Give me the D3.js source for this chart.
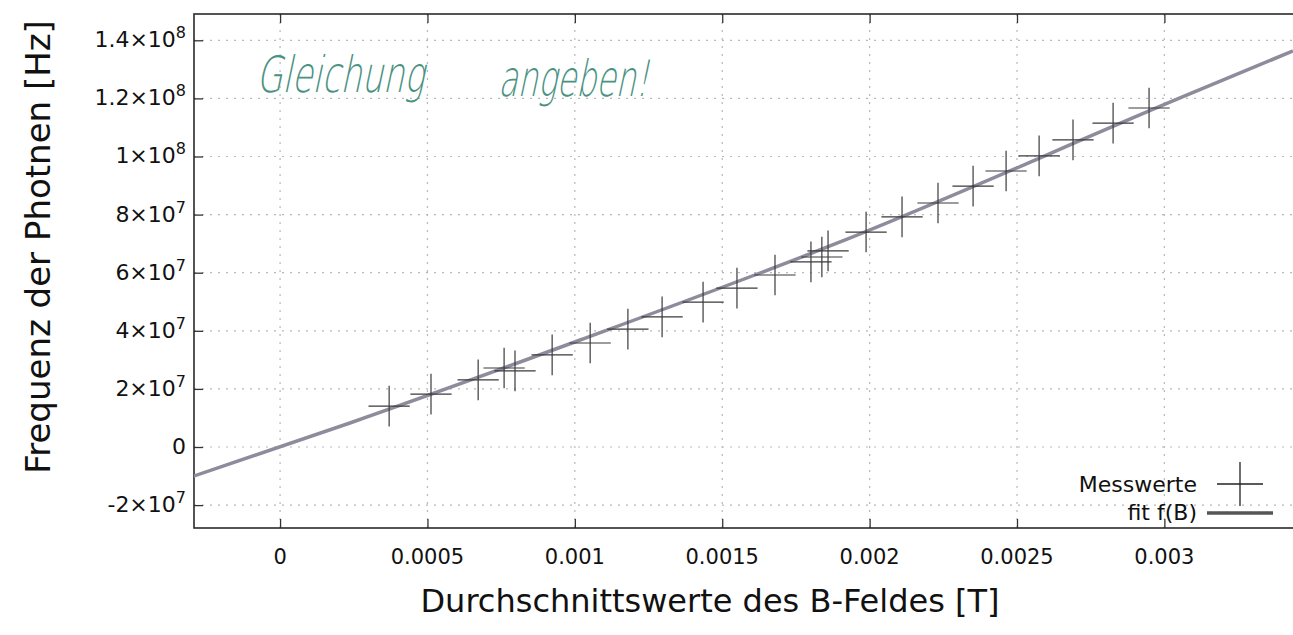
<!DOCTYPE html>
<html>
<head>
<meta charset="utf-8">
<script src="https://cdn.jsdelivr.net/npm/d3@7"></script>
<style>
  html, body { margin: 0; padding: 0; background: #fff; }
  svg { display: block; }
</style>
</head>
<body>
<svg width="1293" height="635"></svg>
<script>
// Data
const bValues = [0.000370, 0.000512, 0.000672, 0.000760, 0.000797, 0.000923, 0.001052, 0.001180,
                 0.001296, 0.001435, 0.001550, 0.001679, 0.001801, 0.001838, 0.001859, 0.001988,
                 0.002110, 0.002232, 0.002351, 0.002463, 0.002575, 0.002690, 0.002826, 0.002948];
const fValues = [1.41e7, 1.82e7, 2.31e7, 2.72e7, 2.62e7, 3.17e7, 3.58e7, 4.06e7,
                 4.48e7, 4.99e7, 5.47e7, 5.92e7, 6.37e7, 6.54e7, 6.75e7, 7.40e7,
                 7.92e7, 8.40e7, 8.98e7, 9.50e7, 1.002e8, 1.057e8, 1.115e8, 1.167e8];
const bErr = [7e-5, 7e-5, 7e-5, 7e-5, 7e-5, 7e-5, 7e-5, 7e-5, 7e-5, 7e-5, 7e-5, 7e-5,
              7e-5, 7e-5, 7e-5, 7e-5, 7e-5, 7e-5, 7e-5, 7e-5, 7e-5, 7e-5, 7e-5, 7e-5];
const fErr = [7e6, 7e6, 7e6, 7e6, 7e6, 7e6, 7e6, 7e6, 7e6, 7e6, 7e6, 7e6,
              7e6, 7e6, 7e6, 7e6, 7e6, 7e6, 7e6, 7e6, 7e6, 7e6, 7e6, 7e6];

const fitB = [-0.000312, 0.000237, 0.001018, 0.001900, 0.003053, 0.003436];
const fitF = [-1.067e7, 8.26e6, 3.683e7, 7.057e7, 1.2014e8, 1.3632e8];

const xTicks = [0, 0.0005, 0.001, 0.0015, 0.002, 0.0025, 0.003];
const xTickLabels = ["0", "0.0005", "0.001", "0.0015", "0.002", "0.0025", "0.003"];
const yTicks = [-2e7, 0, 2e7, 4e7, 6e7, 8e7, 1e8, 1.2e8, 1.4e8];
const yTickLabels = ["-2×10^7", "0", "2×10^7", "4×10^7", "6×10^7", "8×10^7", "1×10^8", "1.2×10^8", "1.4×10^8"];

const svg = d3.select("svg");
const m = { left: 194, right: 1310, top: 14, bottom: 528 };

const x = d3.scaleLinear().domain([-0.000292, 0.003494]).range([m.left, m.right]);
const y = d3.scaleLinear().domain([-2.788e7, 1.4905e8]).range([m.bottom, m.top]);

const font = "DejaVu Sans, Verdana, sans-serif";

svg.append("defs").append("clipPath").attr("id", "plot")
  .append("rect").attr("x", m.left).attr("y", m.top)
  .attr("width", m.right - m.left).attr("height", m.bottom - m.top);

// Grid
const grid = svg.append("g").attr("stroke", "#b8b8b8").attr("stroke-width", 1.2)
  .attr("stroke-dasharray", "2,6");
grid.selectAll(".gx").data(xTicks).join("line")
  .attr("x1", d => x(d)).attr("x2", d => x(d)).attr("y1", m.top).attr("y2", m.bottom);
grid.selectAll(".gy").data(yTicks).join("line")
  .attr("y1", d => y(d)).attr("y2", d => y(d)).attr("x1", m.left).attr("x2", m.right);

// Axes (gnuplot style: ticks inward, mirrored)
const xAxis = svg.append("g").attr("transform", `translate(0,${m.bottom})`)
  .call(d3.axisTop(x).tickValues(xTicks).tickSize(9).tickFormat(""));
const xAxisTop = svg.append("g").attr("transform", `translate(0,${m.top})`)
  .call(d3.axisBottom(x).tickValues(xTicks).tickSize(9).tickFormat(""));
const yAxis = svg.append("g").attr("transform", `translate(${m.left},0)`)
  .call(d3.axisRight(y).tickValues(yTicks).tickSize(9).tickFormat(""));
[xAxis, xAxisTop, yAxis].forEach(g => {
  g.select(".domain").remove();
  g.selectAll("line").attr("stroke", "#333").attr("stroke-width", 1.3);
});

// Border
svg.append("rect")
  .attr("x", m.left).attr("y", m.top)
  .attr("width", m.right - m.left).attr("height", m.bottom - m.top)
  .attr("fill", "none").attr("stroke", "#2a2a2a").attr("stroke-width", 1.6);

// Tick labels
svg.append("g").selectAll("text").data(xTicks).join("text")
  .attr("x", d => x(d)).attr("y", m.bottom + 36)
  .attr("text-anchor", "middle")
  .attr("font-family", font).attr("font-size", 21).attr("fill", "#111")
  .text((d, i) => xTickLabels[i]);

const yl = svg.append("g").selectAll("text").data(yTicks).join("text")
  .attr("x", m.left - 8).attr("y", d => y(d) + 7)
  .attr("text-anchor", "end")
  .attr("font-family", font).attr("font-size", 22).attr("fill", "#111");
yl.each(function(d, i) {
  const parts = yTickLabels[i].split("^");
  const t = d3.select(this);
  t.append("tspan").text(parts[0]);
  if (parts[1]) {
    t.append("tspan").attr("dy", -9).attr("font-size", 16).text(parts[1]);
  }
});

// Axis titles
svg.append("text")
  .attr("transform", `translate(50,247) rotate(-90)`)
  .attr("text-anchor", "middle")
  .attr("font-family", font).attr("font-size", 34).attr("fill", "#111")
  .text("Frequenz der Photnen [Hz]");

svg.append("text")
  .attr("x", 710).attr("y", 612)
  .attr("text-anchor", "middle")
  .attr("font-family", font).attr("font-size", 32).attr("fill", "#111")
  .text("Durchschnittswerte des B-Feldes [T]");

// Fit line
const plot = svg.append("g").attr("clip-path", "url(#plot)");
const fitPts = fitB.map((b, i) => [b, fitF[i]]);
plot.append("path")
  .datum(fitPts)
  .attr("fill", "none")
  .attr("stroke", "#8e8b9c")
  .attr("stroke-width", 3.5)
  .attr("d", d3.line().x(d => x(d[0])).y(d => y(d[1])).curve(d3.curveMonotoneX));

// Measurements with x/y error bars
const pts = bValues.map((b, i) => ({ b, f: fValues[i], eb: bErr[i], ef: fErr[i] }));
const marks = plot.append("g").attr("stroke", "#3a3a3a").attr("stroke-width", 1.2);
marks.selectAll(".h").data(pts).join("line")
  .attr("x1", d => x(d.b - d.eb)).attr("x2", d => x(d.b + d.eb))
  .attr("y1", d => y(d.f)).attr("y2", d => y(d.f));
marks.selectAll(".v").data(pts).join("line")
  .attr("x1", d => x(d.b)).attr("x2", d => x(d.b))
  .attr("y1", d => y(d.f - d.ef)).attr("y2", d => y(d.f + d.ef));

// Legend
const legend = svg.append("g").attr("font-family", font).attr("font-size", 22).attr("fill", "#111");
legend.append("text").attr("x", 1197).attr("y", 492).attr("text-anchor", "end").text("Messwerte");
legend.append("text").attr("x", 1197).attr("y", 520).attr("text-anchor", "end").text("fit f(B)");
legend.append("line").attr("x1", 1217).attr("x2", 1263).attr("y1", 484).attr("y2", 484)
  .attr("stroke", "#222").attr("stroke-width", 1.3);
legend.append("line").attr("x1", 1240).attr("x2", 1240).attr("y1", 462).attr("y2", 506)
  .attr("stroke", "#222").attr("stroke-width", 1.3);
legend.append("line").attr("x1", 1207).attr("x2", 1273).attr("y1", 513).attr("y2", 513)
  .attr("stroke", "#555").attr("stroke-width", 3.5);

// Handwritten note
const note = svg.append("g")
  .attr("font-family", "DejaVu Sans, sans-serif")
  .attr("font-weight", 200)
  .attr("font-size", 50).attr("fill", "#4a9282");
note.append("text").attr("transform", "translate(256,92) skewX(-12)")
  .attr("textLength", 168).attr("lengthAdjust", "spacingAndGlyphs").text("Gleichung");
note.append("text").attr("transform", "translate(498,96) skewX(-12)")
  .attr("textLength", 150).attr("lengthAdjust", "spacingAndGlyphs").text("angeben!");
</script>
</body>
</html>
